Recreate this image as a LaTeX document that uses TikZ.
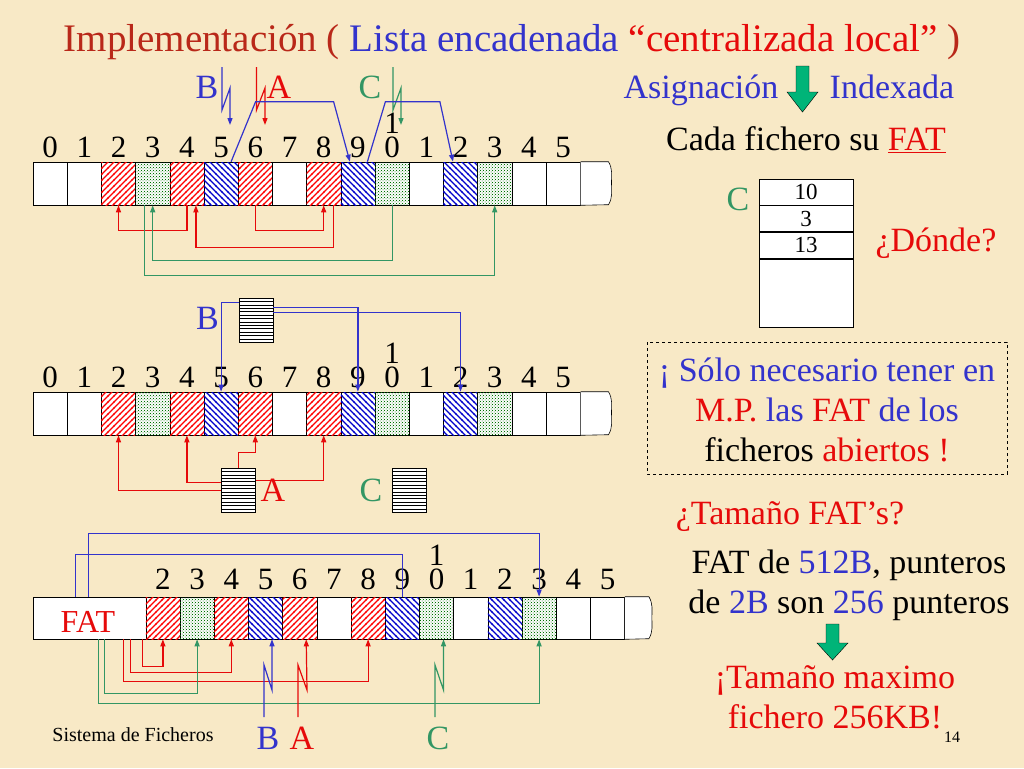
\documentclass[tikz,border=0pt]{standalone}
\usepackage{fontspec}
\setmainfont{Liberation Serif}
\usetikzlibrary{positioning, calc, arrows.meta, patterns}
\definecolor{paper}{RGB}{248,233,198}
\definecolor{tred}{RGB}{230,10,10}
\definecolor{tdred}{RGB}{185,40,25}
\definecolor{tblue}{RGB}{51,51,204}
\definecolor{tgreen}{RGB}{51,150,100}
\definecolor{bigarrow}{RGB}{0,180,120}
\pgfdeclarepatternformonly{fatne}{\pgfqpoint{-1pt}{-1pt}}{\pgfqpoint{7pt}{7pt}}{\pgfqpoint{6pt}{6pt}}
   {\pgfsetlinewidth{1.3pt}\pgfpathmoveto{\pgfqpoint{-0.5pt}{-0.5pt}}
    \pgflineto{\pgfqpoint{6.5pt}{6.5pt}}\pgfusepath{stroke}}
\pgfdeclarepatternformonly{fatnw}{\pgfqpoint{-1pt}{-1pt}}{\pgfqpoint{7pt}{7pt}}{\pgfqpoint{6pt}{6pt}}
   {\pgfsetlinewidth{1.3pt}\pgfpathmoveto{\pgfqpoint{-0.5pt}{6.5pt}}
    \pgflineto{\pgfqpoint{6.5pt}{-0.5pt}}\pgfusepath{stroke}}
\pgfdeclarepatternformonly{fatdots}{\pgfqpoint{-1pt}{-1pt}}{\pgfqpoint{4pt}{4pt}}{\pgfqpoint{3pt}{3pt}}
   {\pgfpathcircle{\pgfqpoint{0.5pt}{0.5pt}}{0.7pt}\pgfpathcircle{\pgfqpoint{2pt}{2pt}}{0.5pt}\pgfusepath{fill}}
\pgfdeclarepatternformonly{fathor}{\pgfqpoint{-1pt}{-1pt}}{\pgfqpoint{4pt}{4pt}}{\pgfqpoint{3pt}{3.4pt}}
   {\pgfsetlinewidth{1pt}\pgfpathmoveto{\pgfqpoint{-1pt}{0.5pt}}
    \pgflineto{\pgfqpoint{4pt}{0.5pt}}\pgfusepath{stroke}}
\tikzset{
fsz/.style = {font = \fontsize{#1}{#1}\selectfont},
cell/.style = {rectangle, draw, semithick, inner sep = 0pt, minimum width = 34.2pt,
   minimum height = 43pt, fill = white},
cw/.style = {cell},
cr/.style = {cell, postaction = {pattern = fatne, pattern color = red}},
cb/.style = {cell, postaction = {pattern = fatnw, pattern color = blue!80!black}},
cg/.style = {cell, postaction = {pattern = fatdots, pattern color = green!45!black}},
num/.style = {fsz = 31, inner sep = 0pt},
lab/.style = {fsz = 34, inner sep = 0pt},
para/.style = {inner sep = 0pt, align = center, font = \fontsize{34}{40}\selectfont},
fatbox/.style = {rectangle, draw, semithick, inner sep = 0pt, minimum width = 34pt,
   minimum height = 44pt, fill = white, postaction = {pattern = fathor}},
tabcell/.style = {rectangle, draw, semithick, inner sep = 0pt, minimum width = 94pt,
   minimum height = 26pt, fill = white, fsz = 23},
link/.style = {-{Triangle[length = 7pt, width = 5pt]}, line width = 1.2pt},
plain/.style = {line width = 1.2pt},
}

\begin{document}
\begin{tikzpicture}[x = 1pt, y = -1pt]
\useasboundingbox (0,0) rectangle (1024,768);
\fill [paper] (0,0) rectangle (1024,768);

%% Title
\node [fsz = 39, inner sep = 0pt] (title) at (512,42) {\color{tdred}Implementación (
   \color{tblue}Lista encadenada \color{tred}“centralizada local” \color{tdred})};

%% Strip 1 and strip 2
\foreach \s/\yc in {1/183.5, 2/413.5} {
\foreach \i/\k in {0/cw,1/cw,2/cr,3/cg,4/cr,5/cb,6/cr,7/cw,8/cr,9/cb,10/cg,11/cw,12/cb,13/cg,14/cw,15/cw} {
   \node [\k] (s\s c\i) at (50.1+34.2*\i,\yc) {};
   \pgfmathtruncatemacro\d{mod(\i,10)}
   \node [num] (d\s-\i) at ($(s\s c\i.north)+(0,-14)$) {\d};
}
\node [num] (t\s) at ($(s\s c10.north)+(0,-38)$) {1};
\filldraw [fill = white, semithick] (s\s c15.north east) -- ++(28,0) to [out = -60, in = 90] ++(3,21)
   to [out = -90, in = 60] ++(-3,22) -- (s\s c15.south east);
}

%% Strip 1 pointers
\node [lab, tblue] (lB1) at (207,87) {B};
\node [lab, tred] (lA1) at (279,87) {A};
\node [lab, tgreen] (lC1) at (370,87) {C};
\coordinate (pB1) at (222,67);
\coordinate (pA1) at (256.5,67);
\coordinate (pC1) at (393,67);
\draw [link, tblue] (pB1) -- ++(0,43) -- ++(8,-22) -- ++(0,37);
\draw [link, tred] (pA1) -- ++(0,43) -- ++(8.5,-22) -- ++(0,37);
\draw [link, tgreen] (pC1) -- ++(0,43) -- ++(8,-22) -- ++(0,37);

\draw [link, tblue] ($(s1c5.north)+(10,0)$) -- ++(24.5,-60) -- ++(78,0) -- ($(s1c9.north)+(-8,0)$);
\draw [link, tblue] ($(s1c9.north)+(9.5,0)$) -- ++(18,-60) -- ++(54.5,0) -- ($(s1c12.north)+(-7.5,0)$);

\draw [link, tred] (s1c4.south) -- ++(0,25) -| (s1c2.south);
\draw [link, tred] (s1c6.south) -- ++(0,25) -| (s1c8.south);
\draw [link, tred] ($(s1c8.south)+(10,0)$) -- ++(0,42) -| ($(s1c4.south)+(9,0)$);
\draw [link, tgreen] (s1c10.south) -- ++(0,55) -| (s1c3.south);
\draw [link, tgreen] ($(s1c3.south)+(-8,0)$) -- ++(0,70) -| (s1c13.south);

%% Strip 2 pointers
\node [lab, tblue] (lB2) at (207.5,318) {B};
\node [fatbox] (fB) at (256,320) {};
\draw [link, tblue] ($(fB.north west)+(0,5)$) -| (s2c5.north);
\draw [link, tblue] ($(fB.north east)+(0,10)$) -| (s2c9.north);
\draw [link, tblue] ($(fB.north east)+(0,15)$) -| (s2c12.north);

\node [fatbox] (fA) at (238.5,490.5) {};
\node [lab, tred] (lA2) at (273,490) {A};
\draw [link, tred] (fA.north) -- ++(0,-16) -| (s2c6.south);
\draw [link, tred] ($(fA.north west)+(0,14)$) -| (s2c4.south);
\draw [link, tred] ($(fA.north west)+(0,22)$) -| (s2c2.south);
\draw [link, tred] ($(fA.north east)+(0,12)$) -| (s2c8.south);

\node [lab, tgreen] (lC2) at (371,490) {C};
\node [fatbox] (fC) at (409.5,490.5) {};

%% Strip 3
\node [cell, minimum width = 112.8pt, minimum height = 42pt] (s3fat) at (89.4,618) {};
\node [fsz = 32, inner sep = 0pt, tred] (fatl) at (88,622) {FAT};
\foreach \i/\k in {2/cr,3/cg,4/cr,5/cb,6/cr,7/cw,8/cr,9/cb,10/cg,11/cw,12/cb,13/cg,14/cw,15/cw} {
   \node [\k, minimum height = 42pt] (s3c\i) at (94.5+34.2*\i,618) {};
   \pgfmathtruncatemacro\d{mod(\i,10)}
   \node [num] (d3-\i) at ($(s3c\i.north)+(0,-17)$) {\d};
}
\node [num] (t3) at ($(s3c10.north)+(0,-41)$) {1};
\filldraw [fill = white, semithick] (s3c15.north east) -- ++(24,0) to [out = -60, in = 90] ++(3,21)
   to [out = -90, in = 60] ++(-3,21) -- (s3c15.south east);

\draw [plain, tblue] ($(s3fat.north west)+(43,0)$) -- ++(0,-42) -| (s3c9.north);
\draw [link, tblue] ($(s3fat.north west)+(56,0)$) -- ++(0,-63) -| (s3c13.north);
\draw [link, tred] ($(s3fat.south west)+(110,0)$) -- ++(0,27) -| (s3c2.south);
\draw [link, tred] ($(s3fat.south west)+(98,0)$) -- ++(0,33) -| (s3c4.south);
\draw [link, tred] ($(s3fat.south west)+(91,0)$) -- ++(0,42) -| (s3c8.south);
\draw [link, tgreen] ($(s3fat.south west)+(72,0)$) -- ++(0,54) -| (s3c3.south);
\draw [link, tgreen] ($(s3fat.south west)+(66,0)$) -- ++(0,64) -| (s3c13.south);

\node [lab, tblue] (lB3) at (268,738) {B};
\node [lab, tred] (lA3) at (302,738) {A};
\node [lab, tgreen] (lC3) at (438,738) {C};
\coordinate (pB3) at (264,717);
\coordinate (pA3) at (298,717);
\coordinate (pC3) at (435,717);
\draw [link, tblue] (pB3) -- ++(0,-52) -- ++(8,25) -- ($(s3c5.south)+(6.5,0)$);
\draw [link, tred] (pA3) -- ++(0,-52) -- ++(9,25) -- ($(s3c6.south)+(6.5,0)$);
\draw [link, tgreen] (pC3) -- ++(0,-52) -- ++(8.5,25) -- ($(s3c10.south)+(7,0)$);

%% Right column
\node [lab, tblue, anchor = base] (asig) at (701,98) {Asignación};
\node [lab, tblue, anchor = base] (idx) at (892,98) {Indexada};
\filldraw [fill = bigarrow, thin] (796,66) -- (809,66) -- (809,92) -- (818,92) -- (802.5,112)
   -- (787,92) -- (796,92) -- cycle;
\node [lab] (cada) at (806,140) {Cada fichero su \textcolor{tred}{\underline{FAT}}};

\node [lab, tgreen] (lCt) at (738,199) {C};
\node [tabcell] (f10) at (806,192) {10};
\node [tabcell] (f3) [below = 0pt of f10] {3};
\node [tabcell] (f13) [below = 0pt of f3] {13};
\node [tabcell, minimum height = 68pt] (fend) [below = 0pt of f13] {};
\node [lab, tred] (donde) at (936,243) {¿Dónde?};

\draw [dashed, thin] (647,342) rectangle (1007,474);
\node [para] (solo) at (827,410)
   {\color{tblue}¡ Sólo necesario tener en\\ \color{tred}M.P. \color{tblue}las
   \color{tred}FAT \color{tblue}de los\\ ficheros \color{tred}abiertos !};

\node [lab, tred] (tam) at (790,517) {¿Tamaño FAT’s?};
\node [para] (calc) at (849,585)
   {FAT de \textcolor{tblue}{512B}, punteros\\ de \textcolor{tblue}{2B} son
   \textcolor{tblue}{256} punteros};
\filldraw [fill = bigarrow, thin] (826,624) -- (839,624) -- (839,643) -- (848,643) -- (832.5,660)
   -- (817,643) -- (826,643) -- cycle;
\node [para, tred] (max) at (835,697) {¡Tamaño maximo\\ fichero 256KB!};

%% Footer
\node [fsz = 20, inner sep = 0pt] (foot) at (133,735) {Sistema de Ficheros};
\node [fsz = 16, inner sep = 0pt] (page) at (952,737) {14};

\end{tikzpicture}
\end{document}
